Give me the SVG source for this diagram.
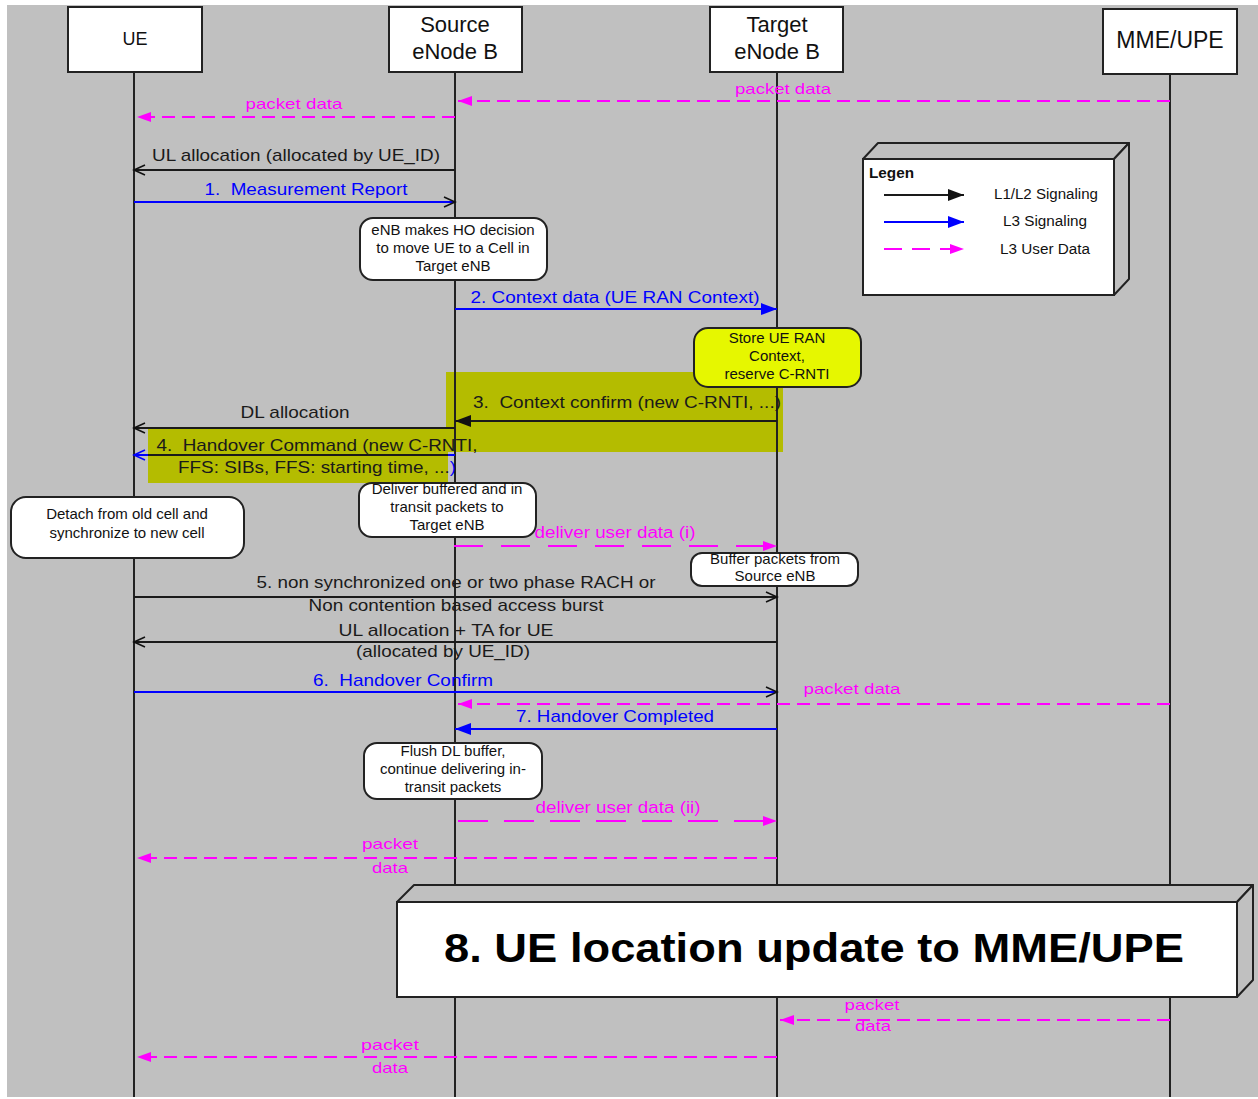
<svg xmlns="http://www.w3.org/2000/svg" width="1258" height="1099" viewBox="0 0 1258 1099">
<style>
text { font-family: "Liberation Sans", Arial, sans-serif; }
.lbl { font-size: 17px; text-anchor: middle; }
.k { fill: #1a1a1a; }
.b { fill: #0000ff; }
.mg { fill: #ff00ff; font-size: 15px; text-anchor: middle; }
.life { stroke: #222; stroke-width: 2; }
.box { fill: #fff; stroke: #222; stroke-width: 2; }
.hd { font-size: 22px; text-anchor: middle; fill: #111; }
.note { fill: #fff; stroke: #222; stroke-width: 2; }
.nt { font-size: 15px; text-anchor: middle; fill: #111; }
.lk { stroke: #1a1a1a; stroke-width: 2; fill: none; }
.lb { stroke: #0000ff; stroke-width: 2; fill: none; }
.lm { stroke: #ff00ff; stroke-width: 2; fill: none; stroke-dasharray: 13 7; }
.face { fill: #c0c0c0; stroke: #222; stroke-width: 2; stroke-linejoin: round; }
.band { fill: #b4bc00; }
</style>
<defs>
<marker id="fm" markerUnits="userSpaceOnUse" markerWidth="14" markerHeight="10" refX="14" refY="5" orient="auto" overflow="visible"><path d="M0,0 L14,5 L0,10 z" fill="#ff00ff"/></marker>
<marker id="fb" markerUnits="userSpaceOnUse" markerWidth="16" markerHeight="12" refX="16" refY="6" orient="auto" overflow="visible"><path d="M0,0 L16,6 L0,12 z" fill="#0000ff"/></marker>
<marker id="fk" markerUnits="userSpaceOnUse" markerWidth="16" markerHeight="12" refX="16" refY="6" orient="auto" overflow="visible"><path d="M0,0 L16,6 L0,12 z" fill="#111"/></marker>
<marker id="ok" markerUnits="userSpaceOnUse" markerWidth="12" markerHeight="10" refX="11" refY="5" orient="auto" overflow="visible"><path d="M0,0 L11,5 L0,10" fill="none" stroke="#111" stroke-width="1.6"/></marker>
<marker id="ob" markerUnits="userSpaceOnUse" markerWidth="12" markerHeight="10" refX="11" refY="5" orient="auto" overflow="visible"><path d="M0,0 L11,5 L0,10" fill="none" stroke="#0000ff" stroke-width="1.6"/></marker>
</defs>

<rect x="0" y="0" width="1258" height="1099" fill="#fff"/>
<rect x="7" y="5" width="1251" height="1092" fill="#c0c0c0"/>

<g id="highlights">
<rect class="band" x="446" y="372" width="337" height="80"/>
<rect class="band" x="148" y="428" width="300" height="55"/>
</g>

<g id="lifelines">
<line class="life" x1="134" y1="72" x2="134" y2="1097"/>
<line class="life" x1="455" y1="72" x2="455" y2="1097"/>
<line class="life" x1="777" y1="72" x2="777" y2="1097"/>
<line class="life" x1="1170" y1="74" x2="1170" y2="1097"/>
</g>

<g id="UE">
<rect class="box" x="68" y="7" width="134" height="65"/>
<text x="135" y="45" style="font-size:18px;text-anchor:middle;fill:#111">UE</text>
</g>
<g id="SourceENB">
<rect class="box" x="389" y="7" width="133" height="65"/>
<text class="hd" x="455" y="32">Source</text>
<text class="hd" x="455" y="59">eNode B</text>
</g>
<g id="TargetENB">
<rect class="box" x="710" y="7" width="133" height="65"/>
<text class="hd" x="777" y="32">Target</text>
<text class="hd" x="777" y="59">eNode B</text>
</g>
<g id="MME">
<rect class="box" x="1103" y="9" width="134" height="65"/>
<text x="1170" y="48" style="font-size:23px;text-anchor:middle;fill:#111">MME/UPE</text>
</g>

<g id="connectors">
<line class="lm" x1="1170" y1="101" x2="458" y2="101" marker-end="url(#fm)"/>
<text class="mg" x="783" y="94" textLength="96" lengthAdjust="spacingAndGlyphs">packet data</text>

<line class="lm" x1="455" y1="117" x2="137" y2="117" marker-end="url(#fm)"/>
<text class="mg" x="294" y="109" textLength="97" lengthAdjust="spacingAndGlyphs">packet data</text>

<line class="lk" x1="455" y1="170" x2="134" y2="170" marker-end="url(#ok)"/>
<text class="lbl k" x="296" y="161" textLength="288" lengthAdjust="spacingAndGlyphs">UL allocation (allocated by UE_ID)</text>

<line class="lb" x1="134" y1="202" x2="455" y2="202" marker-end="url(#ok)"/>
<text class="lbl b" x="306" y="195" textLength="203" lengthAdjust="spacingAndGlyphs">1.&#160; Measurement Report</text>

<line class="lb" x1="455" y1="309" x2="777" y2="309" marker-end="url(#fb)"/>
<text class="lbl b" x="615" y="303" textLength="289" lengthAdjust="spacingAndGlyphs">2. Context data (UE RAN Context)</text>

<line class="lk" x1="777" y1="421" x2="455" y2="421" marker-end="url(#fk)"/>
<text class="lbl k" x="627" y="408" textLength="308" lengthAdjust="spacingAndGlyphs">3.&#160; Context confirm (new C-RNTI, ...)</text>

<line class="lk" x1="455" y1="428" x2="134" y2="428" marker-end="url(#ok)"/>
<text class="lbl k" x="295" y="418" textLength="109" lengthAdjust="spacingAndGlyphs">DL allocation</text>

<line class="lb" x1="455" y1="455" x2="448" y2="455"/>
<line class="lk" x1="448" y1="455" x2="148" y2="455"/>
<line class="lb" x1="148" y1="455" x2="134" y2="455" marker-end="url(#ob)"/>
<text class="lbl k" x="317" y="451" textLength="321" lengthAdjust="spacingAndGlyphs">4.&#160; Handover Command (new C-RNTI,</text>
<text class="lbl k" x="317" y="473" textLength="278" lengthAdjust="spacingAndGlyphs">FFS: SIBs, FFS: starting time, ...<tspan class="b">)</tspan></text>

<line class="lm" x1="454" y1="546" x2="777" y2="546" style="stroke-dasharray:29 18" marker-end="url(#fm)"/>
<text class="mg" x="615" y="538" style="font-size:16px" textLength="161" lengthAdjust="spacingAndGlyphs">deliver user data (i)</text>

<line class="lk" x1="134" y1="597" x2="777" y2="597" marker-end="url(#ok)"/>
<text class="lbl k" x="456" y="588" textLength="399" lengthAdjust="spacingAndGlyphs">5. non synchronized one or two phase RACH or</text>
<text class="lbl k" x="456" y="611" textLength="295" lengthAdjust="spacingAndGlyphs">Non contention based access burst</text>

<line class="lk" x1="777" y1="642" x2="134" y2="642" marker-end="url(#ok)"/>
<text class="lbl k" x="446" y="636" textLength="215" lengthAdjust="spacingAndGlyphs">UL allocation + TA for UE</text>
<text class="lbl k" x="443" y="657" textLength="174" lengthAdjust="spacingAndGlyphs">(allocated by UE_ID)</text>

<line class="lb" x1="134" y1="692" x2="777" y2="692" marker-end="url(#ok)"/>
<text class="lbl b" x="403" y="686" textLength="180" lengthAdjust="spacingAndGlyphs">6.&#160; Handover Confirm</text>

<line class="lm" x1="1170" y1="704" x2="458" y2="704" marker-end="url(#fm)"/>
<text class="mg" x="852" y="694" textLength="97" lengthAdjust="spacingAndGlyphs">packet data</text>

<line class="lb" x1="777" y1="729" x2="455" y2="729" marker-end="url(#fb)"/>
<text class="lbl b" x="615" y="722" textLength="198" lengthAdjust="spacingAndGlyphs">7. Handover Completed</text>

<line class="lm" x1="458" y1="821" x2="777" y2="821" style="stroke-dasharray:30 16" marker-end="url(#fm)"/>
<text class="mg" x="618" y="813" style="font-size:16px" textLength="165" lengthAdjust="spacingAndGlyphs">deliver user data (ii)</text>

<line class="lm" x1="777" y1="858" x2="137" y2="858" marker-end="url(#fm)"/>
<text class="mg" x="390" y="849" textLength="56" lengthAdjust="spacingAndGlyphs">packet</text>
<text class="mg" x="390" y="873" textLength="36" lengthAdjust="spacingAndGlyphs">data</text>

<line class="lm" x1="1170" y1="1020" x2="780" y2="1020" marker-end="url(#fm)"/>
<text class="mg" x="872" y="1010" textLength="55" lengthAdjust="spacingAndGlyphs">packet</text>
<text class="mg" x="873" y="1031" textLength="36" lengthAdjust="spacingAndGlyphs">data</text>

<line class="lm" x1="777" y1="1057" x2="137" y2="1057" marker-end="url(#fm)"/>
<text class="mg" x="390" y="1050" textLength="58" lengthAdjust="spacingAndGlyphs">packet</text>
<text class="mg" x="390" y="1073" textLength="36" lengthAdjust="spacingAndGlyphs">data</text>
</g>

<g id="note-ho-decision">
<rect class="note" x="360" y="218" width="187" height="62" rx="13"/>
<text class="nt" x="453" y="235">eNB makes HO decision</text>
<text class="nt" x="453" y="253">to move UE to a Cell in</text>
<text class="nt" x="453" y="271">Target eNB</text>
</g>
<g id="note-store-context">
<rect x="694" y="328" width="167" height="59" rx="14" fill="#e6f700" stroke="#222" stroke-width="2"/>
<text class="nt" x="777" y="343">Store UE RAN</text>
<text class="nt" x="777" y="361">Context,</text>
<text class="nt" x="777" y="379">reserve C-RNTI</text>
</g>
<g id="note-detach">
<rect class="note" x="11" y="497" width="233" height="61" rx="15"/>
<text class="nt" x="127" y="519">Detach from old cell and</text>
<text class="nt" x="127" y="538">synchronize to new cell</text>
</g>
<g id="note-deliver-buffered">
<rect class="note" x="359" y="483" width="177" height="54" rx="13"/>
<text class="nt" x="447" y="494">Deliver buffered and in</text>
<text class="nt" x="447" y="512">transit packets to</text>
<text class="nt" x="447" y="530">Target eNB</text>
</g>
<g id="note-buffer">
<rect class="note" x="691" y="553" width="167" height="33" rx="11"/>
<text class="nt" x="775" y="564">Buffer packets from</text>
<text class="nt" x="775" y="581">Source eNB</text>
</g>
<g id="note-flush">
<rect class="note" x="364" y="743" width="178" height="56" rx="13"/>
<text class="nt" x="453" y="756">Flush DL buffer,</text>
<text class="nt" x="453" y="774">continue delivering in-</text>
<text class="nt" x="453" y="792">transit packets</text>
</g>

<g id="legend">
<polygon class="face" points="863,159 878,143 1129,143 1114,159"/>
<polygon class="face" points="1114,159 1129,143 1129,279 1114,295"/>
<rect x="863" y="159" width="251" height="136" fill="#fff" stroke="#222" stroke-width="2"/>
<text x="869" y="178" style="font-size:15px;font-weight:bold;fill:#111" textLength="45" lengthAdjust="spacingAndGlyphs">Legen</text>
<line class="lk" x1="884" y1="195" x2="964" y2="195" marker-end="url(#fk)"/>
<line class="lb" x1="884" y1="222" x2="964" y2="222" marker-end="url(#fb)"/>
<line class="lm" x1="884" y1="249" x2="964" y2="249" style="stroke-dasharray:18 10" marker-end="url(#fm)"/>
<text x="1046" y="199" style="font-size:14px;text-anchor:middle;fill:#111" textLength="104" lengthAdjust="spacingAndGlyphs">L1/L2 Signaling</text>
<text x="1045" y="226" style="font-size:14px;text-anchor:middle;fill:#111" textLength="84" lengthAdjust="spacingAndGlyphs">L3 Signaling</text>
<text x="1045" y="254" style="font-size:14px;text-anchor:middle;fill:#111" textLength="90" lengthAdjust="spacingAndGlyphs">L3 User Data</text>
</g>

<g id="location-update">
<polygon class="face" points="397,902 414,885 1253,885 1237,902"/>
<polygon class="face" points="1237,902 1253,885 1253,980 1237,997"/>
<rect x="397" y="902" width="840" height="95" fill="#fff" stroke="#222" stroke-width="2"/>
<text x="814" y="962" style="font-size:41px;font-weight:bold;text-anchor:middle;fill:#000" textLength="740" lengthAdjust="spacingAndGlyphs">8. UE location update to MME/UPE</text>
</g>
</svg>
